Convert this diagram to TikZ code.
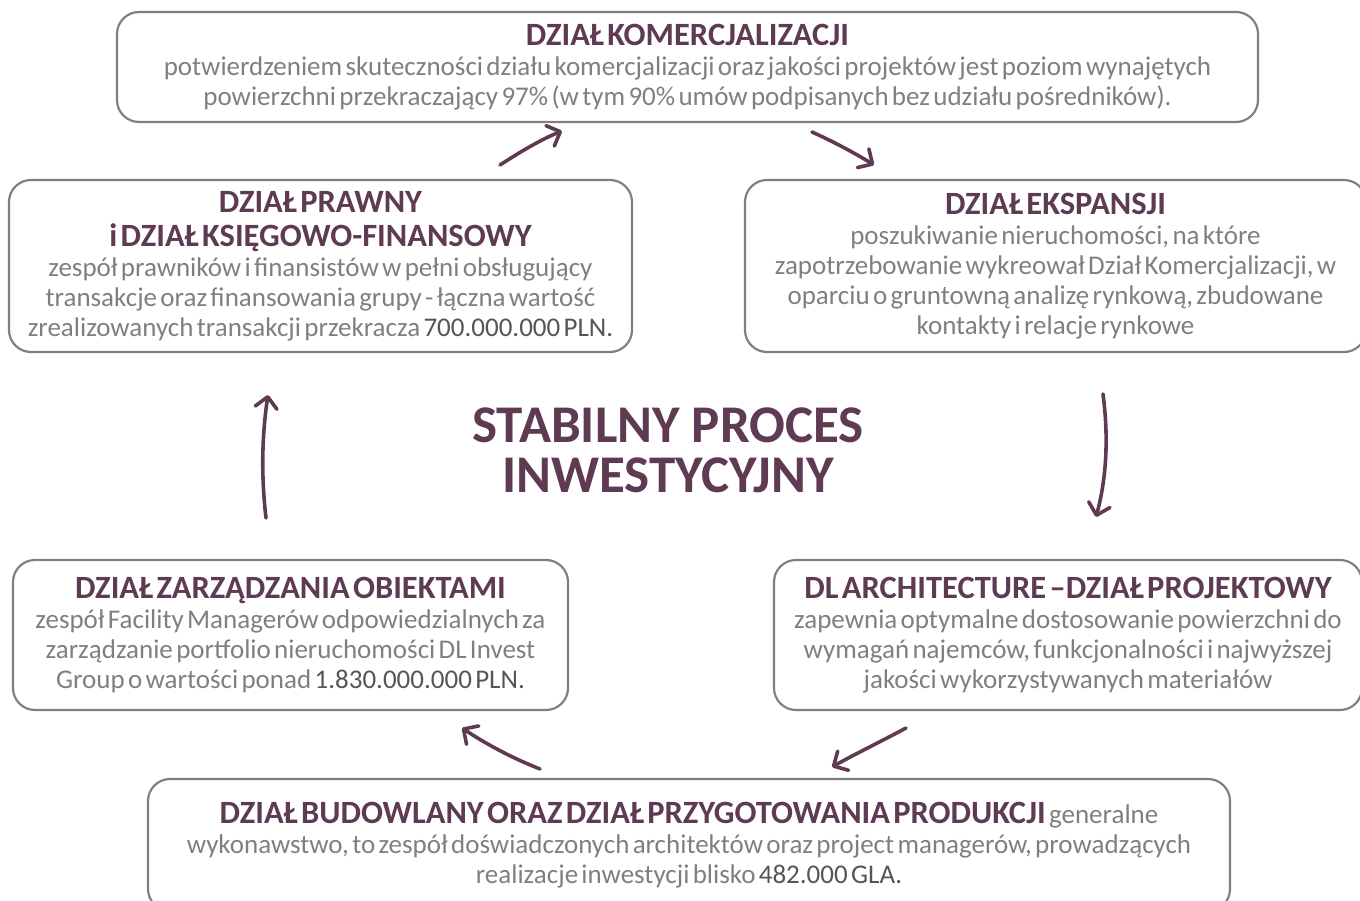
\documentclass[tikz,border=0pt]{standalone}
\usepackage{fontspec}
\setmainfont{Carlito}
\usetikzlibrary{arrows.meta}
\definecolor{plum}{HTML}{5E3A53}
\definecolor{txtgray}{HTML}{7F7F7F}
\definecolor{numgray}{HTML}{555555}
\definecolor{boxgray}{HTML}{808080}
\newcommand{\hd}{\bfseries\fontsize{32.5}{34}\selectfont\color{plum}}
\newcommand{\bd}{\mdseries\fontsize{27}{30}\selectfont\color{txtgray}}
\newcommand{\nm}[1]{{\color{numgray}#1}}
\begin{document}
\begin{tikzpicture}[x=1pt,y=-1pt,
  panel/.style={draw=boxgray, line width=2.2pt, rounded corners=22pt,
    inner sep=0pt, align=center},
  caption/.style={inner sep=0pt, text=plum, font=\bfseries\fontsize{53}{45}\selectfont},
  flow/.style={draw=plum, line width=3.6pt, line cap=round,
    -{Straight Barb[length=11pt,width=22pt,line cap=round,line join=round]}}]
\useasboundingbox (0,0) rectangle (1360,901);
\clip (0,0) rectangle (1360,901);

% department panels
\node[panel, minimum width=1141pt, minimum height=110pt, text width=1141pt] (kom) at (687.5,67)
  {{\hd DZIAŁ KOMERCJALIZACJI\par}
   {\bd potwierdzeniem skuteczności działu komercjalizacji oraz jakości projektów jest poziom wynajętych\\
   powierzchni przekraczający 97\% (w tym 90\% umów podpisanych bez udziału pośredników).\par}};

\node[panel, minimum width=623pt, minimum height=172pt, text width=623pt] (praw) at (320.5,266)
  {{\hd DZIAŁ PRAWNY\\ i DZIAŁ KSIĘGOWO-FINANSOWY\par}
   {\bd zespół prawników i finansistów w pełni obsługujący\\
   transakcje oraz finansowania grupy - łączna wartość\\
   zrealizowanych transakcji przekracza \nm{700.000.000 PLN.}\par}};

\node[panel, minimum width=621pt, minimum height=172pt, text width=621pt] (eksp) at (1055.5,266)
  {{\hd DZIAŁ EKSPANSJI\par}
   {\bd poszukiwanie nieruchomości, na które\\
   zapotrzebowanie wykreował Dział Komercjalizacji, w\\
   oparciu o gruntowną analizę rynkową, zbudowane\\
   kontakty i relacje rynkowe\par}};

\node[panel, minimum width=555pt, minimum height=150pt, text width=555pt] (obj) at (290.5,635)
  {{\hd DZIAŁ ZARZĄDZANIA OBIEKTAMI\par}
   {\bd zespół Facility Managerów odpowiedzialnych za\\
   zarządzanie portfolio nieruchomości DL Invest\\
   Group o wartości ponad \nm{1.830.000.000 PLN.}\par}};

\node[panel, minimum width=588pt, minimum height=150pt, text width=588pt] (arch) at (1068,635)
  {{\hd DL ARCHITECTURE –DZIAŁ PROJEKTOWY\par}
   {\bd zapewnia optymalne dostosowanie powierzchni do\\
   wymagań najemców, funkcjonalności i najwyższej\\
   jakości wykorzystywanych materiałów\par}};

\node[panel, minimum width=1082pt, minimum height=132pt, text width=1082pt] (bud) at (689,845)
  {{\bd {\hd DZIAŁ BUDOWLANY ORAZ DZIAŁ PRZYGOTOWANIA PRODUKCJI} generalne\\
   wykonawstwo, to zespół doświadczonych architektów oraz project managerów, prowadzących\\
   realizacje inwestycji blisko \nm{482.000 GLA.}\par}};

% centre caption, one node per line
\node[caption, text height=35pt, text depth=1pt, anchor=base] (title1) at (668,442) {STABILNY PROCES};
\node[caption, text height=35pt, text depth=6pt, anchor=base] (title2) at (668,492) {INWESTYCYJNY};

% connector end points between the panels
\coordinate (p1) at (500,165);  \coordinate (k1) at (562,131);
\coordinate (k2) at (812,132);  \coordinate (e1) at (874,165);
\coordinate (e2) at (1103,394); \coordinate (a1) at (1096,517);
\coordinate (a2) at (906,728);  \coordinate (b1) at (832,767);
\coordinate (b2) at (540,769);  \coordinate (o1) at (462,728);
\coordinate (o2) at (266,518);  \coordinate (p2) at (268,395);

% cycle of arrows
\draw[flow] (p1) .. controls (520,152) and (540,140) .. (k1);
\draw[flow] (k2) .. controls (832,141) and (853,152) .. (e1);
\draw[flow] (e2) .. controls (1109,440) and (1106,480) .. (a1);
\draw[flow] (a2) .. controls (880,742) and (855,754) .. (b1);
\draw[flow] (b2) .. controls (512,758) and (486,744) .. (o1);
\draw[flow] (o2) .. controls (261,475) and (262,435) .. (p2);
\end{tikzpicture}
\end{document}
